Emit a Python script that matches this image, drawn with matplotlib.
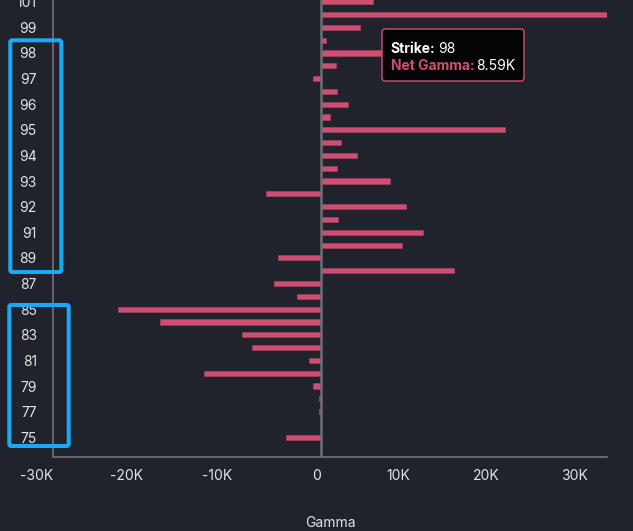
import matplotlib
matplotlib.use("Agg")
import matplotlib.pyplot as plt
from matplotlib.patches import FancyBboxPatch
from matplotlib.transforms import IdentityTransform
from matplotlib.ticker import FuncFormatter

# ---- data ----
strikes = ["101", "100", "99", "98.5", "98", "97.5", "97", "96.5", "96", "95.5",
           "95", "94.5", "94", "93.5", "93", "92.5", "92", "91.5", "91", "90",
           "89", "88", "87", "86", "85", "84", "83", "82", "81", "80",
           "79", "78", "77", "76", "75"]
net_gamma = [5800, 32100, 4400, 600, 8590, 1700, -860, 1760, 3000, 970,
             20700, 2250, 4100, 1760, 7800, -6200, 9500, 1900, 11400, 9100,
             -4800, 14900, -5300, -2700, -22800, -18100, -8900, -7750, -1300, -13100,
             -940, -190, -190, 0, -3900]
ytick_labels = ["101", "99", "98", "97", "96", "95", "94", "93", "92", "91",
                "89", "87", "85", "83", "81", "79", "77", "75"]
xticks = [-30000, -20000, -10000, 0, 10000, 20000, 30000]
tooltip_strike = "98"
x_label = "Gamma"

# ---- style ----
BG = "#21232c"
BAR = "#cf4f72"
BAR_EDGE = "#a8405e"
AXIS = "#6e6e74"
TXT = "#e4e4e6"
BLUE = "#19a9f5"
FONT = ["Inter", "DejaVu Sans"]
plt.rcParams["font.family"] = FONT

W, H, DPI = 633, 531, 100
fig = plt.figure(figsize=(W / DPI, H / DPI), dpi=DPI, facecolor=BG)
ax = fig.add_axes([53.5 / W, 74.5 / H, (607 - 53.5) / W, 1 - 74.5 / H])
ax.set_facecolor(BG)

ypos = list(range(len(strikes)))
ax.barh(ypos, net_gamma, height=0.4, color=BAR, edgecolor=BAR_EDGE,
        linewidth=0.5, zorder=2)
ax.axvline(0, color=AXIS, linewidth=1.8, zorder=3)

ax.set_ylim(len(strikes) - 1 + 1.5, -1.7 / 12.81)
ax.set_xlim(-30000, max(net_gamma))

ax.set_yticks([strikes.index(s) for s in ytick_labels])
ax.set_yticklabels(ytick_labels)
ax.set_xticks(xticks)
ax.xaxis.set_major_formatter(FuncFormatter(
    lambda v, p: "0" if v == 0 else f"{int(v / 1000)}K"))
for lab in ax.get_xticklabels():
    lab.set_horizontalalignment("right")

ax.tick_params(axis="both", length=0, colors=TXT, labelsize=10)
ax.tick_params(axis="y", pad=12)
ax.tick_params(axis="x", pad=9)
for s in ["top", "right"]:
    ax.spines[s].set_visible(False)
for s in ["left", "bottom"]:
    ax.spines[s].set_color(AXIS)
    ax.spines[s].set_linewidth(1.3)

fig.text(330 / W, 1 - 523 / H, x_label, ha="center", va="center",
         color=TXT, fontsize=10)

# ---- tooltip ----
def px(x, y):
    return x, H - y

val = net_gamma[strikes.index(tooltip_strike)]
tip = FancyBboxPatch(px(382, 81), 142, 52, boxstyle="round,pad=0,rounding_size=3",
                     transform=IdentityTransform(), facecolor="#050507",
                     edgecolor=BAR, linewidth=1.0, zorder=10)
fig.add_artist(tip)
tr = IdentityTransform()
fig.text(*px(390.7, 49.3), "Strike:", transform=tr, color="white",
         fontsize=10, fontweight="bold", va="center", zorder=11)
fig.text(*px(437.7, 49.3), tooltip_strike, transform=tr, color="white",
         fontsize=10, va="center", zorder=11)
fig.text(*px(390.7, 65.7), "Net Gamma:", transform=tr, color=BAR,
         fontsize=10, fontweight="bold", va="center", zorder=11)
fig.text(*px(476, 65.7), f"{val / 1000:.2f}K", transform=tr, color="white",
         fontsize=10, va="center", zorder=11)

# ---- highlight boxes ----
for (x0, y0, x1, y1) in [(10.3, 40.3, 61.3, 272), (9.3, 305, 68.7, 446)]:
    r = FancyBboxPatch(px(x0, y1), x1 - x0, y1 - y0,
                       boxstyle="round,pad=0,rounding_size=2",
                       transform=IdentityTransform(), facecolor="none",
                       edgecolor=BLUE, linewidth=2.9, zorder=12)
    fig.add_artist(r)

fig.savefig("out.png", dpi=DPI, facecolor=BG)
